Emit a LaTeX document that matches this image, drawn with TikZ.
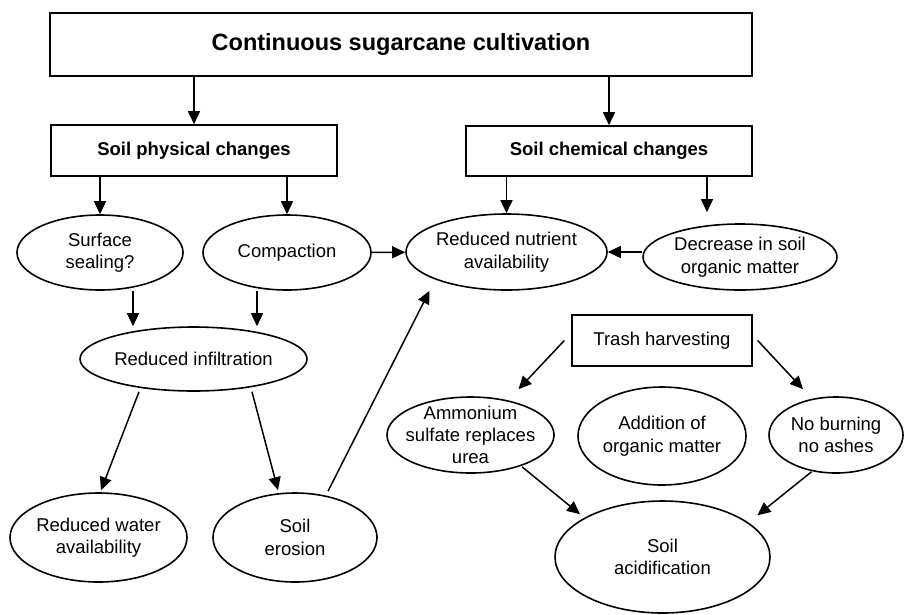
\documentclass[tikz,border=0pt]{standalone}
\usepackage{fontspec}
\setmainfont{Liberation Sans}
\usetikzlibrary{shapes.geometric,arrows.meta,calc}

\begin{document}
\begin{tikzpicture}[x=1pt,y=-1pt,
    box/.style={draw,line width=1.6pt,inner sep=0pt,align=center,font=\fontsize{18.5}{22.5}\selectfont},
    oval/.style={draw,ellipse,line width=1.6pt,inner sep=-30pt,align=center,font=\fontsize{18.5}{22.5}\selectfont},
    arr/.style={line width=1.5pt,-{Triangle[length=13pt,width=12pt]}}]
    \useasboundingbox (0,0) rectangle (904,614);      % page size as the figure

    \node [box, minimum width=702pt, minimum height=63pt,
        font=\fontsize{23.5}{28}\selectfont\bfseries] (cult) at (401,44.5)
        {Continuous sugarcane cultivation};            % top box
    \node [box, minimum width=286pt, minimum height=51pt, font=\fontsize{18.5}{22}\selectfont\bfseries]
        (phys) at (194,150.5) {Soil physical changes};
    \node [box, minimum width=286pt, minimum height=50pt, font=\fontsize{18.5}{22}\selectfont\bfseries]
        (chem) at (609,151) {Soil chemical changes};

    \node [oval, minimum width=166pt, minimum height=75pt] (sealing) at (100,252.5) {Surface\\sealing?};
    \node [oval, minimum width=168pt, minimum height=75pt] (comp) at (287,252.5) {Compaction};
    \node [oval, minimum width=201pt, minimum height=76pt] (nutr) at (506.5,252) {Reduced nutrient\\availability};
    \node [oval, minimum width=194pt, minimum height=66pt] (orgm) at (740,257) {Decrease in soil\\organic matter};
    \node [oval, minimum width=227pt, minimum height=64pt] (infil) at (193.5,359) {Reduced infiltration};
    \node [oval, minimum width=177pt, minimum height=89pt] (water) at (98.5,537.5) {Reduced water\\availability};
    \node [oval, minimum width=164pt, minimum height=89pt] (erosion) at (295,537.5) {Soil\\erosion};

    \node [box, line width=1.4pt, minimum width=180pt, minimum height=51pt] (trash) at (662,340.5) {Trash harvesting};
    \node [oval, minimum width=167pt, minimum height=76pt, font=\fontsize{18.5}{22}\selectfont]
        (ammon) at (470.5,435) {Ammonium\\sulfate replaces\\urea};
    \node [oval, minimum width=168pt, minimum height=98pt] (addorg) at (662,436) {Addition of\\organic matter};
    \node [oval, minimum width=134pt, minimum height=76pt] (noburn) at (836,435) {No burning\\no ashes};
    \node [oval, minimum width=215pt, minimum height=112pt] (acid) at (662.5,557) {Soil\\acidification};

    \draw [arr] (cult.south -| phys) -- (phys.north);  % split in two kinds of change
    \draw [arr] (cult.south -| chem) -- (chem.north);

    \draw [arr] (phys.south -| sealing) -- (sealing.north);
    \draw [arr] (phys.south -| comp) -- (comp.north);
    \draw [arr] (chem.south -| nutr) -- (nutr.north);
    \draw [arr] ($(chem.south -| orgm)+(-33,0)$) -- ($(orgm.north)+(-33,-11)$);

    \draw [arr] (comp) -- (nutr);
    \draw [arr] (orgm.west |- nutr.east) -- (nutr.east);

    \draw [arr] ($(sealing.south)+(33,0)$) -- ($(infil.north)+(-60.5,0)$);  % physical chain
    \draw [arr] ($(comp.south)+(-30,0)$) -- ($(infil.north)+(63.5,0)$);
    \draw [arr] ($(infil.south)+(-54.5,0)$) -- ($(water.north)+(2.5,-2)$);
    \draw [arr] ($(infil.south)+(58.5,0)$) -- ($(erosion.north)+(-17,-2)$);
    \draw [arr] ($(erosion.north)+(33,-1)$) -- ($(nutr.south)+(-77,0)$);

    \draw [arr] ($(trash.west)+(-7,0)$) -- ($(ammon.north)+(48,-7)$);     % trash side
    \draw [arr] ($(trash.east)+(5,0)$) -- ($(noburn.north)+(-33,-7)$);
    \draw [arr] ($(ammon.south)+(51.5,-7)$) -- ($(acid.north)+(-82.5,14)$);
    \draw [arr] ($(noburn.south)+(-24.5,-2)$) -- ($(acid.north)+(95,15)$);
\end{tikzpicture}
\end{document}
